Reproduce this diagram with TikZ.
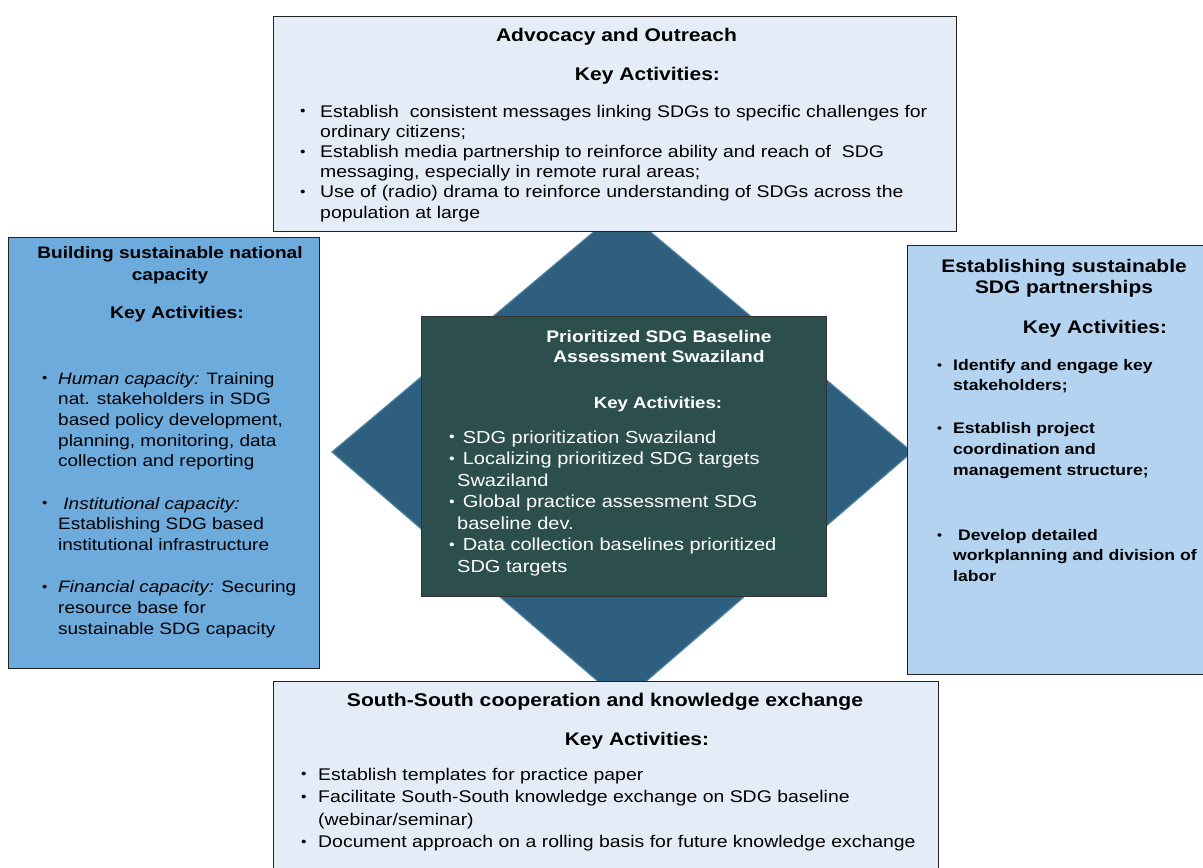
\documentclass[tikz,border=0pt]{standalone}
\usepackage{fontspec}
\setmainfont{Liberation Sans}[FakeStretch=1.15]
\usepackage{array}

\definecolor{paleblue}{HTML}{E4EDF7}
\definecolor{midblue}{HTML}{6EABDD}
\definecolor{skyblue}{HTML}{B3D3F0}
\definecolor{slateteal}{HTML}{2C4F4D}
\definecolor{steel}{HTML}{2F5F7E}
\definecolor{steeledge}{HTML}{4C82A2}
\definecolor{boxline}{HTML}{222222}

% small raised bullet for the activity lists
\newcommand{\bul}{\raisebox{0.12ex}{\scalebox{0.8}{\textbullet}}}
\newcommand{\fsz}[2]{\fontsize{#1}{#2}\selectfont}

\begin{document}
\begin{tikzpicture}[x=1pt,y=-1pt,
  panel/.style={draw=boxline, line width=1.4pt, inner sep=0pt, anchor=north west},
  heading/.style={inner sep=0pt, anchor=base, font=\bfseries},
  blist/.style={inner sep=0pt, anchor=base west}
]
\useasboundingbox (0,0) rectangle (1203,868);

% central diamond behind everything
\coordinate (dtop) at (622,208);
\coordinate (dright) at (912,452);
\coordinate (dbot) at (622,702);
\coordinate (dleft) at (332,452);
\filldraw[fill=steel, draw=steeledge, line width=1.2pt] (dtop) -- (dright) -- (dbot) -- (dleft) -- cycle;

% ---------------- top panel ----------------
\node[panel, fill=paleblue, minimum width=683pt, minimum height=215pt] (outreach) at (273,16) {};
\node[heading, font={\bfseries\fsz{18.3}{21}}] (outreachT) at (616.5,41) {Advocacy and Outreach};
\node[heading, font={\bfseries\fsz{18.3}{21}}] (outreachK) at (647.5,80) {Key Activities:};
\node[blist, font={\fsz{16.9}{20.2}}] (outreachL) at (300,117) {%
\begin{tabular}[t]{@{}p{20pt}@{}l@{}}
\bul & Establish\ \ consistent messages linking SDGs to specific challenges for\\
     & ordinary citizens;\\
\bul & Establish media partnership to reinforce ability and reach of\ \ SDG\\
     & messaging, especially in remote rural areas;\\
\bul & Use of (radio) drama to reinforce understanding of SDGs across the\\
     & population at large
\end{tabular}};

% ---------------- left panel ----------------
\node[panel, fill=midblue, minimum width=311pt, minimum height=431pt] (capacity) at (8,237) {};
\node[heading, font={\bfseries\fsz{16.6}{22}}] (capacityT) at (170,258) {%
\begin{tabular}[t]{@{}c@{}}Building sustainable national\\capacity\end{tabular}};
\node[heading, font={\bfseries\fsz{16.9}{21}}] (capacityK) at (177,318) {Key Activities:};
\node[blist, font={\fsz{16.5}{20.7}}] (capacityL) at (42,384) {%
\begin{tabular}[t]{@{}p{16pt}@{}l@{}}
\bul & \textit{Human capacity:} Training\\
     & nat. stakeholders in SDG\\
     & based policy development,\\
     & planning, monitoring, data\\
     & collection and reporting\\[21.5pt]
\bul & \ \textit{Institutional capacity:}\\
     & Establishing SDG based\\
     & institutional infrastructure\\[21.5pt]
\bul & \textit{Financial capacity:} Securing\\
     & resource base for\\
     & sustainable SDG capacity
\end{tabular}};

% ---------------- right panel ----------------
\node[panel, fill=skyblue, minimum width=310pt, minimum height=429pt] (partners) at (907,245) {};
\node[heading, font={\bfseries\fsz{18.2}{21}}] (partnersT) at (1064,272) {%
\begin{tabular}[t]{@{}c@{}}Establishing sustainable\\SDG partnerships\end{tabular}};
\node[heading, font={\bfseries\fsz{18.2}{21}}] (partnersK) at (1095,333) {Key Activities:};
\node[blist, font={\bfseries\fsz{15.3}{20.8}}] (partnersL) at (937,370) {%
\begin{tabular}[t]{@{}p{16pt}@{}l@{}}
\bul & Identify and engage key\\
     & stakeholders;\\[22pt]
\bul & Establish project\\
     & coordination and\\
     & management structure;\\[44pt]
\bul & \ Develop detailed\\
     & workplanning and division of\\
     & labor
\end{tabular}};

% ---------------- centre panel ----------------
\node[panel, fill=slateteal, draw=black!80, line width=1pt, minimum width=405pt, minimum height=280pt] (baseline) at (421,316) {};
\node[heading, text=white, font={\bfseries\fsz{16.7}{20}}] (baselineT) at (659,342) {%
\begin{tabular}[t]{@{}c@{}}Prioritized SDG Baseline\\Assessment Swaziland\end{tabular}};
\node[heading, text=white, font={\bfseries\fsz{16.2}{20}}] (baselineK) at (658,408) {Key Activities:};
\node[blist, text=white, font={\fsz{17.4}{21.5}}] (baselineL) at (449,443) {%
\begin{tabular}[t]{@{}p{8pt}@{}l@{}}
\bul & \ SDG prioritization Swaziland\\
\bul & \ Localizing prioritized SDG targets\\
     & Swaziland\\
\bul & \ Global practice assessment SDG\\
     & baseline dev.\\
\bul & \ Data collection baselines prioritized\\
     & SDG targets
\end{tabular}};

% ---------------- bottom panel ----------------
\node[panel, fill=paleblue, minimum width=665pt, minimum height=209pt] (southsouth) at (273,681) {};
\node[heading, font={\bfseries\fsz{18.4}{21}}] (southsouthT) at (605,706) {South-South cooperation and knowledge exchange};
\node[heading, font={\bfseries\fsz{18.2}{21}}] (southsouthK) at (637,745) {Key Activities:};
\node[blist, font={\fsz{16.9}{22.5}}] (southsouthL) at (301,780) {%
\begin{tabular}[t]{@{}p{17pt}@{}l@{}}
\bul & Establish templates for practice paper\\
\bul & Facilitate South-South knowledge exchange on SDG baseline\\
     & (webinar/seminar)\\
\bul & Document approach on a rolling basis for future knowledge exchange
\end{tabular}};
\end{tikzpicture}
\end{document}
